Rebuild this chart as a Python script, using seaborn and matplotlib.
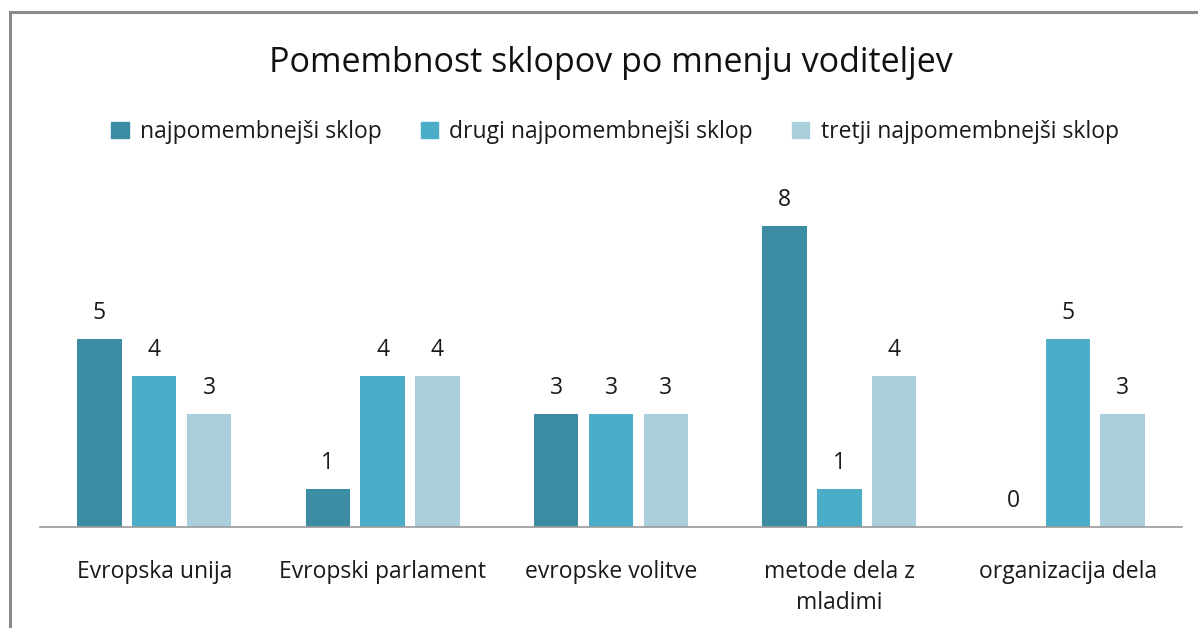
import matplotlib
matplotlib.use("Agg")
import matplotlib.pyplot as plt
import matplotlib.patches as mpatches
import seaborn as sns
import pandas as pd

categories = ["Evropska unija", "Evropski parlament", "evropske volitve", "metode dela z\nmladimi", "organizacija dela"]
series_names = ["najpomembnejši sklop", "drugi najpomembnejši sklop", "tretji najpomembnejši sklop"]
najpomembnejsi = [5, 1, 3, 8, 0]
drugi = [4, 4, 3, 1, 5]
tretji = [3, 4, 3, 4, 3]
colors = ["#3C8DA3", "#4BADC7", "#A9CFDD"]

rows = []
for name, vals in zip(series_names, [najpomembnejsi, drugi, tretji]):
    for c, v in zip(categories, vals):
        rows.append({"kategorija": c, "serija": name, "vrednost": v})
df = pd.DataFrame(rows)

sns.set_theme(style="white")
plt.rcParams["font.family"] = ["Open Sans", "DejaVu Sans"]

W, H = 1198, 628
fig = plt.figure(figsize=(W / 100, H / 100), dpi=100)
ax = fig.add_axes([40 / W, 101 / H, (1182 - 40) / W, (527 - 188) / H])

sns.barplot(data=df, x="kategorija", y="vrednost", hue="serija", palette=colors,
            hue_order=series_names, order=categories, ax=ax, width=0.72,
            saturation=1, legend=False)

# narrow bars slightly to leave gaps between them
for p in ax.patches:
    w = p.get_width()
    cx = p.get_x() + w / 2
    nw = w * 0.81
    p.set_x(cx - nw / 2)
    p.set_width(nw)
    p.set_edgecolor("none")

for cont in ax.containers:
    ax.bar_label(cont, padding=10, fontsize=16.5, color="#1a1a1a", clip_on=False)

ax.set_ylim(0, 9)
ax.set_xlim(-0.5, 4.5)
ax.set_xlabel("")
ax.set_ylabel("")
ax.set_yticks([])
for s in ["top", "right", "left"]:
    ax.spines[s].set_visible(False)
ax.spines["bottom"].set_color("#9a9a9a")
ax.spines["bottom"].set_linewidth(1.2)
ax.tick_params(axis="x", length=0, pad=24, labelsize=16.5, colors="#1a1a1a")
for lbl in ax.get_xticklabels():
    lbl.set_linespacing(1.35)
ax.set_facecolor("none")

fig.text(611 / W, 1 - 63 / H, "Pomembnost sklopov po mnenju voditeljev", ha="center", va="center",
         fontsize=24.5, color="#111111")

handles = [mpatches.Patch(color=c, label=n) for c, n in zip(colors, series_names)]
fig.legend(handles=handles, loc="center", bbox_to_anchor=(615 / W, 1 - 132 / H), ncol=3,
           frameon=False, fontsize=16.5, handlelength=0.75, handleheight=0.75, handletextpad=0.5,
           columnspacing=1.7, labelcolor="#1a1a1a")

border = mpatches.Rectangle((10 / W, -0.05), 1.2, 1 - 12 / H + 0.05, transform=fig.transFigure,
                            fill=False, edgecolor="#8a8a8a", linewidth=2.2)
fig.patches.append(border)

fig.savefig("out.png", dpi=100)
